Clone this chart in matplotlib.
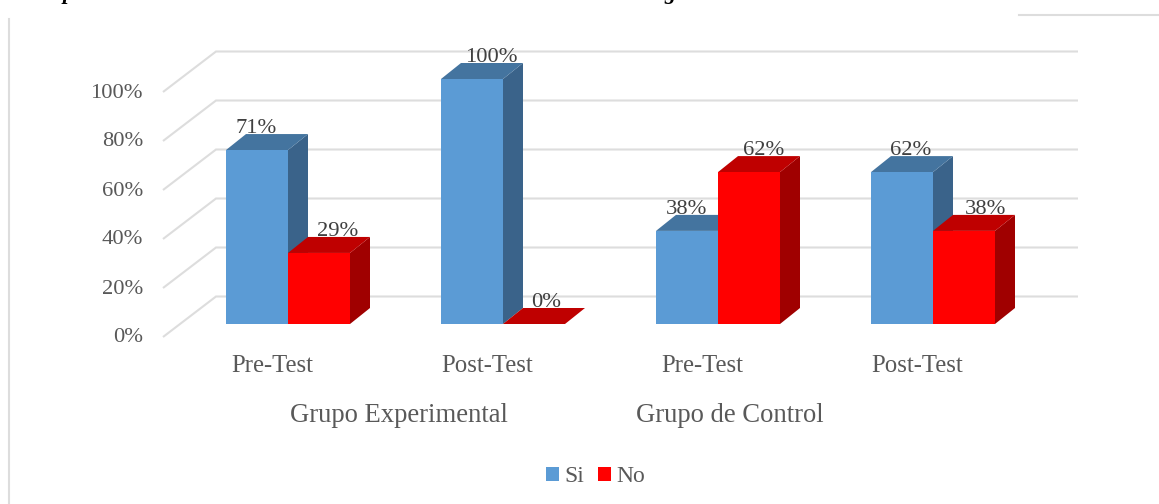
"""Barras 3D simuladas: Si / No por grupo y momento de evaluacion"""
import matplotlib
matplotlib.use("Agg")
import matplotlib.pyplot as plt
from matplotlib.patches import Polygon, Rectangle

plt.rcParams["font.family"] = ["Liberation Serif", "DejaVu Serif"]

moments = ["Pre-Test", "Post-Test", "Pre-Test", "Post-Test"]
groups = ["Grupo Experimental", "Grupo de Control"]
si_values = [71, 100, 38, 62]
no_values = [29, 0, 62, 38]
ticks = [0, 20, 40, 60, 80, 100]

# desplazamiento horizontal de cada etiqueta respecto a su barra (px)
si_nudge = [-1, 19, -1, 9]
no_nudge = [19, 12, 15, 22]

TEXT = "#595959"
LABEL = "#404040"
GRID = "#dddddd"
COLORS = {
    "Si": ("#5b9bd5", "#44749f", "#3a638a"),
    "No": ("#ff0000", "#bf0000", "#a00000"),
}

W, H = 1159, 504
CAT_W = 215.0    # px por categoria
PCT = 2.45       # px por punto porcentual
X0, Y0 = 288.0, 324.0

fig = plt.figure(figsize=(W / 100, H / 100), dpi=100, facecolor="white")
ax = fig.add_axes([0, 0, 1, 1])
ax.set_xlim(-X0 / CAT_W, (W - X0) / CAT_W)
ax.set_ylim((Y0 - H) / PCT, Y0 / PCT)
ax.axis("off")

bar_w = 62 / CAT_W
dx_bar, dy_bar = 20 / CAT_W, 16 / PCT
# pared del fondo y suelo, en profundidad respecto al frente de las barras
dx_wall, dy_wall = 53 / CAT_W, 40.5 / PCT
floor_x = -125 / CAT_W
floor_y = -13 / PCT
right_end = (1078 - X0) / CAT_W


def bar3d(x, val, name):
    front, top, side = COLORS[name]
    ax.add_patch(Polygon([(x + bar_w, 0), (x + bar_w + dx_bar, dy_bar),
                          (x + bar_w + dx_bar, val + dy_bar), (x + bar_w, val)],
                         fc=side, ec="none", zorder=3))
    ax.add_patch(Polygon([(x, val), (x + dx_bar, val + dy_bar),
                          (x + bar_w + dx_bar, val + dy_bar), (x + bar_w, val)],
                         fc=top, ec="none", zorder=3))
    if val > 0:
        ax.add_patch(Rectangle((x, 0), bar_w, val, fc=front, ec="none", zorder=4))


# rejilla: linea lateral en diagonal y linea horizontal al fondo
for t in ticks:
    ax.plot([floor_x, floor_x + dx_wall, right_end],
            [t + floor_y, t + floor_y + dy_wall, t + floor_y + dy_wall],
            color=GRID, lw=1.5, solid_capstyle="butt", solid_joinstyle="miter", zorder=1)
    ax.text(floor_x - 20 / CAT_W, t + floor_y - 1 / PCT, f"{t}%", ha="right", va="center",
            fontsize=16.2, color=TEXT)

for i, (si, no) in enumerate(zip(si_values, no_values)):
    bar3d(i - bar_w, si, "Si")
    bar3d(i, no, "No")
    ax.text(i - bar_w / 2 + si_nudge[i] / CAT_W, si + dy_bar + 1 / PCT, f"{si}%",
            ha="center", va="baseline", fontsize=16.2, color=LABEL, zorder=6)
    ax.text(i + bar_w / 2 + no_nudge[i] / CAT_W, no + dy_bar + 1 / PCT, f"{no}%",
            ha="center", va="baseline", fontsize=16.2, color=LABEL, zorder=6)
    ax.text(i - 16 / CAT_W, -42 / PCT, moments[i], ha="center", va="center",
            fontsize=17.8, color=TEXT)

# etiquetas de grupo
ax.text(111 / CAT_W, -91 / PCT, groups[0], ha="center", va="center", fontsize=19.2, color=TEXT)
ax.text(441.5 / CAT_W, -91 / PCT, groups[1], ha="center", va="center", fontsize=19.2, color=TEXT)

# leyenda
handles = [Rectangle((0, 0), 1, 1, fc=COLORS[k][0]) for k in ("Si", "No")]
fig.legend(handles, ["Si", "No"], loc="center", bbox_to_anchor=(595.5 / W, 1 - 477 / H),
           ncol=2, frameon=False, fontsize=17, labelcolor=TEXT, handlelength=0.55,
           handleheight=0.55, handletextpad=0.25, columnspacing=0.55, borderpad=0)

# borde del recuadro
fig.add_artist(plt.Line2D([9 / W, 9 / W], [0, 1 - 19 / H], color=GRID, lw=1.5))
fig.add_artist(plt.Line2D([1019 / W, 1], [1 - 15 / H, 1 - 15 / H], color=GRID, lw=1.5))

# linea de texto superior, cortada por el borde: solo asoman los descendentes
for letter, px in [("p", 68), ("g", 670)]:
    fig.text(px / W, 1 + 1.5 / H, letter, ha="center", va="baseline", fontsize=16,
             fontweight="bold", fontstyle="italic", color="black")

fig.savefig("out.png", dpi=100, facecolor="white")
plt.close(fig)
